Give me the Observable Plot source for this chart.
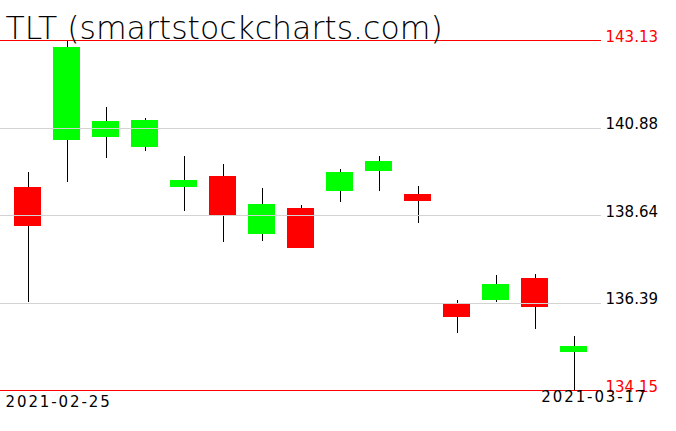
<!DOCTYPE html>
<html>
<head>
<meta charset="utf-8">
<script src="https://cdn.jsdelivr.net/npm/d3@7"></script>
<script src="https://cdn.jsdelivr.net/npm/@observablehq/plot@0.6"></script>
<style>
  html, body { margin: 0; padding: 0; background: white; }
</style>
</head>
<body>
<div id="chart"></div>
<script>
const title = "TLT (smartstockcharts.com)";
const dates = ["2021-02-25","2021-02-26","2021-03-01","2021-03-02","2021-03-03","2021-03-04","2021-03-05","2021-03-08","2021-03-09","2021-03-10","2021-03-11","2021-03-12","2021-03-15","2021-03-16","2021-03-17"];
const opens  = [139.36, 140.57, 140.65, 140.39, 139.36, 139.64, 138.16, 138.82, 139.26, 139.78, 139.18, 136.38, 136.47, 137.02, 135.13];
const closes = [138.37, 142.95, 141.05, 141.08, 139.54, 138.64, 138.92, 137.80, 139.74, 140.03, 139.01, 136.02, 136.87, 136.28, 135.28];
const highs  = [139.74, 143.13, 141.41, 141.13, 140.15, 139.95, 139.33, 138.90, 139.82, 140.15, 139.38, 136.46, 137.10, 137.13, 135.54];
const lows   = [136.42, 139.49, 140.09, 140.29, 138.75, 137.96, 137.98, 137.79, 138.97, 139.26, 138.44, 135.62, 136.42, 135.72, 134.15];
const levels = [143.13, 140.88, 138.64, 136.39, 134.15];
const levelLabels = ["143.13", "140.88", "138.64", "136.39", "134.15"];
const levelKind = ["extreme", "grid", "grid", "grid", "extreme"];

const data = dates.map((d, i) => ({date: d, open: opens[i], close: closes[i], high: highs[i], low: lows[i]}));
const up = data.filter(d => d.close >= d.open);
const down = data.filter(d => d.close < d.open);
const lv = levels.map((v, i) => ({value: v, label: levelLabels[i], kind: levelKind[i]}));

const chart = Plot.plot({
  width: 676,
  height: 431,
  marginTop: 0,
  marginBottom: 0,
  marginLeft: 0,
  marginRight: 75,
  style: {fontFamily: "DejaVu Sans", background: "white", color: "black"},
  x: {type: "band", domain: dates, range: [6.7, 594.3], paddingInner: 0.31, paddingOuter: 0.155, axis: null},
  y: {domain: [134.15, 143.13], range: [390, 40], axis: null},
  marks: [
    Plot.ruleX(data, {x: "date", y1: "low", y2: "high", stroke: "black", strokeWidth: 1, shapeRendering: "crispEdges"}),
    Plot.barY(up, {x: "date", y1: "open", y2: "close", fill: "#00ff00", shapeRendering: "crispEdges"}),
    Plot.barY(down, {x: "date", y1: "open", y2: "close", fill: "#ff0000", shapeRendering: "crispEdges"}),
    Plot.ruleY(lv.filter(d => d.kind === "grid"), {y: "value", stroke: "#d3d3d3", strokeWidth: 1, shapeRendering: "crispEdges"}),
    Plot.ruleY(lv.filter(d => d.kind === "extreme"), {y: "value", stroke: "#ff0000", strokeWidth: 1, shapeRendering: "crispEdges"}),
    Plot.text(lv, {y: "value", text: "label", frameAnchor: "right", dx: 4, textAnchor: "start", lineAnchor: "bottom", dy: 1, fontSize: 15, fill: d => d.kind === "extreme" ? "red" : "black"}),
    Plot.text([title], {frameAnchor: "top-left", dx: 5, dy: 38, textAnchor: "start", lineAnchor: "bottom", fontSize: 31.5, fontWeight: 200, fill: "black"}),
    Plot.text([dates[0]], {frameAnchor: "top-left", dx: 5, dy: 406, textAnchor: "start", lineAnchor: "bottom", fontSize: 15, fill: "black", className: "datelabel"}),
    Plot.text([dates[dates.length - 1]], {frameAnchor: "top-left", dx: 647, dy: 401, textAnchor: "end", lineAnchor: "bottom", fontSize: 15, fill: "black", className: "datelabel"})
  ]
});
d3.select(chart).selectAll("text")
  .filter(function() { return /^\d{4}-\d{2}-\d{2}$/.test(this.textContent); })
  .attr("letter-spacing", "1.9px");
document.getElementById("chart").appendChild(chart);
</script>
</body>
</html>
